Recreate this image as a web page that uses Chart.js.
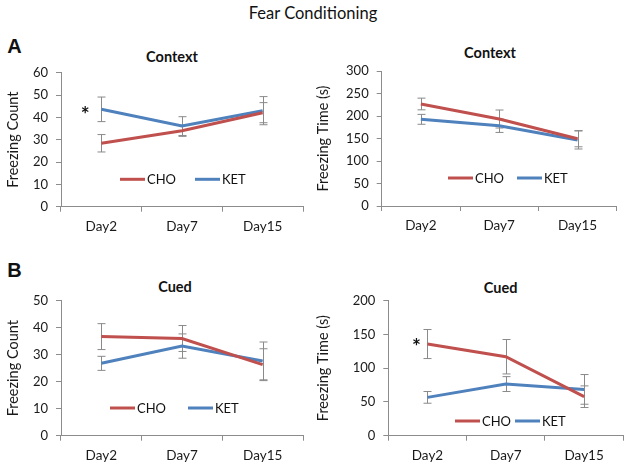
<!DOCTYPE html>
<html>
<head>
<meta charset="utf-8">
<script src="https://cdn.jsdelivr.net/npm/chart.js@4.4.0/dist/chart.umd.min.js"></script>
<style>
    body { margin: 0; width: 629px; height: 469px; overflow: hidden; background: #fff; position: relative; font-family: Lato, sans-serif; }
    .box { position: absolute; }
    .txt { position: absolute; transform: translate(-50%, -50%); line-height: 1; white-space: nowrap; color: #111; }
    .main { font-size: 16.5px; }
    .panel { font-size: 14.5px; font-weight: bold; }
    .letter { font-family: "Liberation Sans", Arial, sans-serif; font-size: 20px; font-weight: bold; }
</style>
</head>
<body>
<div class="txt main" style="left:313px; top:13px;">Fear Conditioning</div>
<div class="txt letter" style="left:14.5px; top:46px;">A</div>
<div class="txt letter" style="left:14.5px; top:270px;">B</div>
<div class="txt panel" style="left:172px; top:57px;">Context</div>
<div class="txt panel" style="left:490px; top:53.3px;">Context</div>
<div class="txt panel" style="left:175px; top:286.7px;">Cued</div>
<div class="txt panel" style="left:500.7px; top:288.3px;">Cued</div>

<div class="box" style="left:0; top:40px;"><canvas id="ctxCount" width="320" height="200"></canvas></div>
<div class="box" style="left:310px; top:40px;"><canvas id="ctxTime" width="319" height="200"></canvas></div>
<div class="box" style="left:0; top:270px;"><canvas id="cuedCount" width="320" height="199"></canvas></div>
<div class="box" style="left:310px; top:270px;"><canvas id="cuedTime" width="319" height="199"></canvas></div>

<script>
// Data
const days = ['Day2', 'Day7', 'Day15'];
const seriesNames = ['CHO', 'KET'];

// A - Context
const ctxCountCHO = [28.4, 34.0, 42.1];
const ctxCountKET = [43.6, 36.1, 43.0];
const ctxCountErrCHO = [3.9, 2.5, 4.5];
const ctxCountErrKET = [5.5, 4.2, 6.3];

const ctxTimeCHO = [226.7, 193.3, 149.6];
const ctxTimeKET = [192.6, 178.5, 146.7];
const ctxTimeErrCHO = [13, 20, 18];
const ctxTimeErrKET = [11, 15, 20];

// B - Cued
const cuedCountCHO = [36.7, 36.0, 26.3];
const cuedCountKET = [26.8, 33.2, 27.7];
const cuedCountErrCHO = [4.8, 4.8, 5.9];
const cuedCountErrKET = [2.6, 4.5, 7.0];

const cuedTimeCHO = [135.8, 117.0, 57.8];
const cuedTimeKET = [56.8, 76.5, 68.6];
const cuedTimeErrCHO = [21.5, 25.5, 16];
const cuedTimeErrKET = [8.7, 11, 22];

// y axis ranges: [max, step]
const ctxCountAxis = [60, 10];
const ctxTimeAxis = [300, 50];
const cuedCountAxis = [50, 10];
const cuedTimeAxis = [200, 50];

const RED = '#c0504d';
const BLUE = '#4f81bd';
const AXIS = '#8c8c8c';

Chart.defaults.font.family = 'Lato, sans-serif';
Chart.defaults.color = '#1a1a1a';

// gray error bars behind the lines
const errorBars = {
    id: 'errorBars',
    beforeDatasetsDraw(chart) {
        const ctx = chart.ctx;
        const yScale = chart.scales.y;
        ctx.save();
        ctx.strokeStyle = '#8a8a8a';
        ctx.lineWidth = 1;
        chart.data.datasets.forEach((ds, i) => {
            const meta = chart.getDatasetMeta(i);
            ds.errors.forEach((e, j) => {
                const x = Math.round(meta.data[j].x) + 0.5;
                const top = yScale.getPixelForValue(ds.data[j] + e);
                const bottom = yScale.getPixelForValue(ds.data[j] - e);
                ctx.beginPath();
                ctx.moveTo(x, top);
                ctx.lineTo(x, bottom);
                ctx.moveTo(x - 4, top);
                ctx.lineTo(x + 4, top);
                ctx.moveTo(x - 4, bottom);
                ctx.lineTo(x + 4, bottom);
                ctx.stroke();
            });
        });
        ctx.restore();
    }
};

// legend drawn inside the plot area
const insideLegend = {
    id: 'insideLegend',
    afterDatasetsDraw(chart, args, opts) {
        const ctx = chart.ctx;
        const area = chart.chartArea;
        ctx.save();
        ctx.font = '13px Lato, sans-serif';
        ctx.textBaseline = 'middle';
        ctx.fillStyle = '#111';
        chart.data.datasets.forEach((ds, i) => {
            const x = area.left + opts.x + opts.offsets[i];
            const y = area.top + opts.y;
            ctx.strokeStyle = ds.borderColor;
            ctx.lineWidth = 3;
            ctx.beginPath();
            ctx.moveTo(x, y);
            ctx.lineTo(x + 25, y);
            ctx.stroke();
            ctx.fillText(ds.label, x + 27, y + 0.5);
        });
        ctx.restore();
    }
};

// significance asterisk next to a point
const starMark = {
    id: 'starMark',
    afterDatasetsDraw(chart, args, opts) {
        if (!opts || opts.dataset === undefined) return;
        const pt = chart.getDatasetMeta(opts.dataset).data[opts.index];
        const ctx = chart.ctx;
        ctx.save();
        ctx.font = 'bold 21px Lato, sans-serif';
        ctx.textAlign = 'center';
        ctx.textBaseline = 'alphabetic';
        ctx.fillStyle = '#111';
        ctx.fillText('*', pt.x + opts.dx, pt.y + opts.dy);
        ctx.restore();
    }
};

function makeChart(id, cho, ket, errCho, errKet, axis, yTitle, box, legend, star) {
    const canvas = document.getElementById(id);
    return new Chart(canvas.getContext('2d'), {
        type: 'line',
        data: {
            labels: days,
            datasets: [{
                label: seriesNames[0],
                data: cho,
                errors: errCho,
                borderColor: RED,
                borderWidth: 3,
                pointRadius: 0,
                tension: 0,
                fill: false
            }, {
                label: seriesNames[1],
                data: ket,
                errors: errKet,
                borderColor: BLUE,
                borderWidth: 3,
                pointRadius: 0,
                tension: 0,
                fill: false
            }]
        },
        options: {
            responsive: false,
            animation: false,
            layout: {
                padding: { top: box.top, right: box.right, bottom: 0, left: 0 }
            },
            scales: {
                x: {
                    offset: true,
                    grid: { offset: true, drawOnChartArea: false, tickLength: 5, color: AXIS },
                    border: { color: AXIS },
                    ticks: { padding: 7, font: { size: 13.5 }, color: '#1a1a1a' },
                    afterFit: s => { s.height = box.xHeight; }
                },
                y: {
                    min: 0,
                    max: axis[0],
                    ticks: { stepSize: axis[1], padding: 8, font: { size: 13 }, color: '#1a1a1a' },
                    grid: { drawOnChartArea: false, tickLength: 5, color: AXIS },
                    border: { color: AXIS },
                    title: { display: true, text: yTitle, font: { size: 14.5 }, color: '#1a1a1a', padding: { top: 5, bottom: 4 } },
                    afterFit: s => { s.width = box.yWidth; }
                }
            },
            plugins: {
                legend: { display: false },
                tooltip: { enabled: false },
                insideLegend: legend,
                starMark: star || {}
            }
        },
        plugins: [errorBars, insideLegend, starMark]
    });
}

makeChart('ctxCount', ctxCountCHO, ctxCountKET, ctxCountErrCHO, ctxCountErrKET, ctxCountAxis, 'Freezing Count',
    { top: 32.7, right: 17, yWidth: 61, xHeight: 33.3 },
    { x: 59, y: 106.6, offsets: [0, 75] },
    { dataset: 1, index: 0, dx: -16, dy: 13 });

makeChart('ctxTime', ctxTimeCHO, ctxTimeKET, ctxTimeErrCHO, ctxTimeErrKET, ctxTimeAxis, 'Freezing Time (s)',
    { top: 31, right: 12.3, yWidth: 71.7, xHeight: 34 },
    { x: 66.3, y: 107, offsets: [0, 69] },
    null);

makeChart('cuedCount', cuedCountCHO, cuedCountKET, cuedCountErrCHO, cuedCountErrKET, cuedCountAxis, 'Freezing Count',
    { top: 30.7, right: 17, yWidth: 61, xHeight: 33.3 },
    { x: 49, y: 107.3, offsets: [0, 78] },
    null);

makeChart('cuedTime', cuedTimeCHO, cuedTimeKET, cuedTimeErrCHO, cuedTimeErrKET, cuedTimeAxis, 'Freezing Time (s)',
    { top: 30.7, right: 5.7, yWidth: 78.3, xHeight: 33.3 },
    { x: 66.7, y: 120.3, offsets: [0, 60] },
    { dataset: 0, index: 0, dx: -11, dy: 10 });
</script>
</body>
</html>
